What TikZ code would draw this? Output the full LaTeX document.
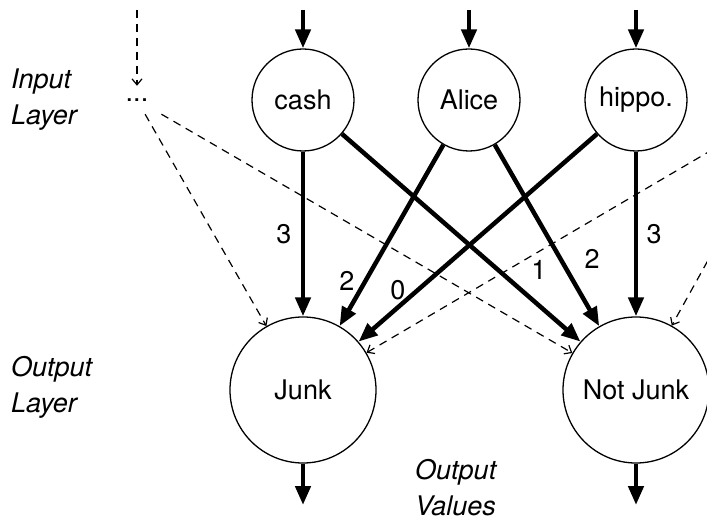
\documentclass[tikz,border=0pt]{standalone}
\usepackage{fontspec}
\setmainfont{TeX Gyre Heros}
\usetikzlibrary{arrows.meta}
\begin{document}
\begin{tikzpicture}[x=1pt,y=-1pt,
  every node/.style={font=\fontsize{27}{37}\selectfont},
  neuron/.style={circle,draw,line width=1.3pt,minimum size=102pt,inner sep=0pt},
  outneuron/.style={neuron,minimum size=146pt},
  heavyarrow/.style={line width=4.5pt,-{Triangle[length=19pt,width=15pt]}},
  dasharrow/.style={line width=1.2pt,dash pattern=on 8pt off 6pt,-{Straight Barb[length=6pt,width=10pt]}},
  dotsbox/.style={rectangle,minimum width=50pt,minimum height=28pt,inner sep=0pt},
  layerlabel/.style={font=\fontsize{27}{36}\selectfont\itshape,align=left,inner sep=0pt},
  weight/.style={inner sep=0pt}]
\useasboundingbox (0,0) rectangle (707,521);
\clip (0,0) rectangle (707,521);

% input neurons
\node[neuron] (cash)  at (303,100) {cash};
\node[neuron] (alice) at (469,100) {Alice};
\node[neuron] (hippo) at (636,100) {hippo.};
\node[dotsbox] (ldots) at (137,100) {...};
\node[dotsbox] (rdots) at (797,100) {};

% output neurons
\node[outneuron] (junk)    at (303,390) {Junk};
\node[outneuron] (notjunk) at (636,390) {Not Junk};

% incoming arrows
\coordinate (incash)  at (303,10);
\coordinate (inalice) at (469,10);
\coordinate (inhippo) at (636,10);
\coordinate (indots)  at (137,10);
\draw[heavyarrow] (incash) -- (cash);
\draw[heavyarrow] (inalice) -- (alice);
\draw[heavyarrow] (inhippo) -- (hippo);
\draw[dasharrow] (indots) -- (ldots);

% outgoing arrows
\coordinate (outjunk)    at (303,505);
\coordinate (outnotjunk) at (636,505);
\draw[heavyarrow] (junk) -- (outjunk);
\draw[heavyarrow] (notjunk) -- (outnotjunk);

% dashed connections
\draw[dasharrow] (ldots) -- (junk);
\draw[dasharrow] (ldots) -- (notjunk);
\draw[dasharrow] (rdots) -- (junk);
\draw[dasharrow] (rdots) -- (notjunk);

% weighted connections
\draw[heavyarrow] (cash) -- (junk);
\draw[heavyarrow] (cash) -- (notjunk);
\draw[heavyarrow] (alice) -- (junk);
\draw[heavyarrow] (alice) -- (notjunk);
\draw[heavyarrow] (hippo) -- (junk);
\draw[heavyarrow] (hippo) -- (notjunk);

% weights
\node[weight] (w1) at (284,234) {3};
\node[weight] (w2) at (347,281) {2};
\node[weight] (w3) at (398,290) {0};
\node[weight] (w4) at (539,270) {1};
\node[weight] (w5) at (592,259) {2};
\node[weight] (w6) at (654,234) {3};

% layer labels
\node[layerlabel,anchor=base west] (inlabel)  at (11,125) {Input\\Layer};
\node[layerlabel,anchor=base west] (outlabel) at (11,412) {Output\\Layer};
\node[layerlabel,anchor=base west] (vallabel) at (415,515) {Output\\Values};
\end{tikzpicture}
\end{document}
